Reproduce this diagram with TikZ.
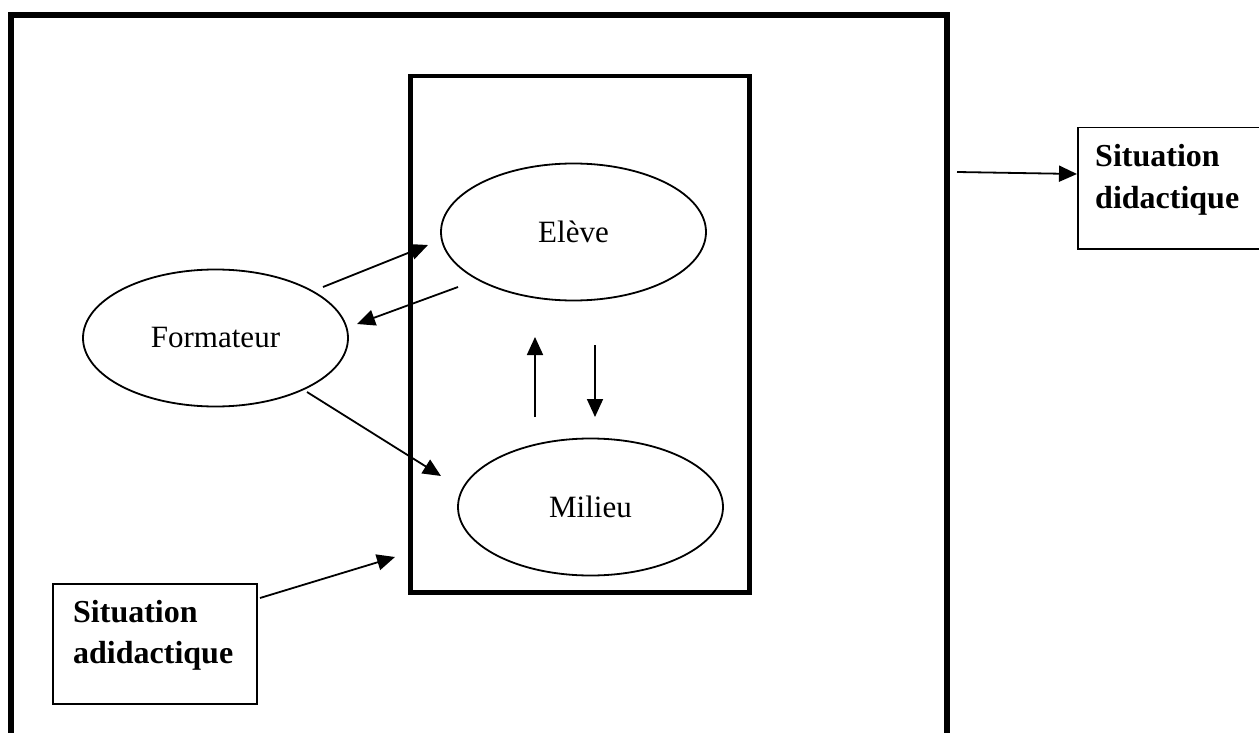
\documentclass[tikz,border=0pt]{standalone}
\usepackage{fontspec}
\setmainfont{Liberation Serif}
\usetikzlibrary{arrows.meta,shapes.geometric}
\begin{document}
\begin{tikzpicture}[x=1pt,y=-1pt,
  oval/.style={draw,line width=1.8pt,ellipse,minimum width=265pt,minimum height=137pt,inner sep=0pt,font=\fontsize{31}{37}\selectfont},
  sbox/.style={draw,line width=1.5pt,inner sep=0pt,anchor=north west},
  btext/.style={inner sep=0pt,anchor=base west,font=\fontsize{32}{41}\selectfont\bfseries},
  arr/.style={line width=1.8pt,-{Triangle[length=18pt,width=16pt]}}]
\useasboundingbox (0,0) rectangle (1259,733);
% outer frame
\draw[line width=6pt] (11,15) rectangle (947,760);
% inner frame
\node[draw,line width=4.5pt,minimum width=339pt,minimum height=516pt,inner sep=0pt,anchor=north west] (inner) at (408,74) {};
% ellipses
\node[oval] (eleve) at (573.5,232) {Elève};
\node[oval] (form) at (215.5,338) {Formateur};
\node[oval] (milieu) at (590.5,507) {Milieu};
% boxes
\node[sbox,minimum width=204pt,minimum height=120pt] (adid) at (52,583) {};
\node[btext] (adid1) at (73,622) {Situation};
\node[btext] (adid2) at (73,663) {adidactique};
\node[sbox,minimum width=200pt,minimum height=121pt] (did) at (1077,127) {};
\node[btext] (did1) at (1095,167) {Situation};
\node[btext] (did2) at (1095,208) {didactique};
% arrow endpoints
\coordinate (a1s) at (323,287); \coordinate (a1e) at (428,245);
\coordinate (a2s) at (458,287); \coordinate (a2e) at (357,324);
\coordinate (a3s) at (307,392); \coordinate (a3e) at (441,476);
\coordinate (a4s) at (535,417); \coordinate (a4e) at (535,337);
\coordinate (a5s) at (595,345); \coordinate (a5e) at (595,417);
\coordinate (a6s) at (957,172);
\coordinate (a7s) at (260,598); \coordinate (a7e) at (395,557);
% arrows
\draw[arr] (a1s) -- (a1e);
\draw[arr] (a2s) -- (a2e);
\draw[arr] (a3s) -- (a3e);
\draw[arr] (a4s) -- (a4e);
\draw[arr] (a5s) -- (a5e);
\draw[arr] (a6s) -- (did.west |- 0,174);
\draw[arr] (a7s) -- (a7e);
\end{tikzpicture}
\end{document}
